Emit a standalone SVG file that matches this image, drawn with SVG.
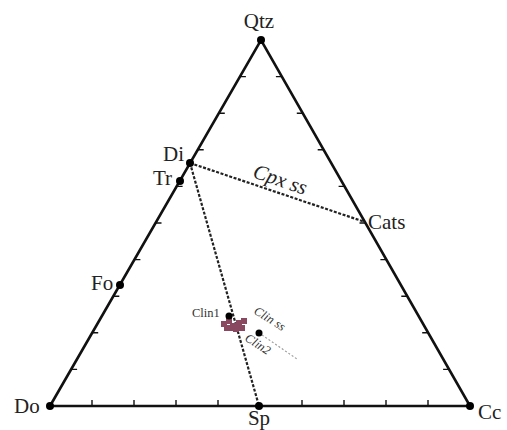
<svg xmlns="http://www.w3.org/2000/svg" width="507" height="430" viewBox="0 0 507 430">
<style>
.side{stroke:#111;stroke-width:2.6;fill:none;stroke-linejoin:miter}
.tick{stroke:#111;stroke-width:1.4;fill:none}
.tie{stroke:#222;stroke-width:2.2;stroke-dasharray:3,1.6;fill:none}
.ss{stroke:#999;stroke-width:1.1;stroke-dasharray:2,2;fill:none}
.dot{fill:#000}
.lbl{font-family:"Liberation Serif","Times New Roman",serif;font-size:21px;fill:#222}
.sm{font-family:"Liberation Serif","Times New Roman",serif;font-size:12.5px;fill:#333}
.it{font-style:italic}
.pt{fill:#8a4860}
</style>
<rect width="507" height="430" fill="#fff"/>
<g id="connectors">
<path class="side" d="M50,406 L261,40 L470,406 Z"/>
<g id="ticks">
<path class="tick" d="M71.1,369.4h6 M92.2,332.8h6 M113.3,296.2h6 M134.4,259.6h6 M155.5,223h6 M176.6,186.4h6 M197.7,149.8h6 M218.8,113.2h6 M239.9,76.6h6"/>
<path class="tick" d="M281.9,76.6h-6 M302.8,113.2h-6 M323.7,149.8h-6 M344.6,186.4h-6 M365.5,223h-6 M386.4,259.6h-6 M407.3,296.2h-6 M428.2,332.8h-6 M449.1,369.4h-6"/>
<path class="tick" d="M92,406v-6 M134,406v-6 M176,406v-6 M218,406v-6 M302,406v-6 M344,406v-6 M386,406v-6 M428,406v-6"/>
</g>
<path class="tie" d="M190,163 L365,222"/>
<path class="tie" d="M190,163 L259,406"/>
<path class="ss" d="M262,335 L297,359"/>
</g>
<g id="cluster">
<rect class="pt" x="221" y="321" width="6" height="6"/>
<rect class="pt" x="226" y="318" width="6" height="6"/>
<rect class="pt" x="224" y="325" width="6" height="6"/>
<rect class="pt" x="230" y="323" width="6" height="6"/>
<rect class="pt" x="236" y="320" width="6" height="6"/>
<rect class="pt" x="241" y="318" width="6" height="6"/>
<rect class="pt" x="233" y="326" width="6" height="6"/>
<rect class="pt" x="239" y="325" width="6" height="6"/>
<rect class="pt" x="228" y="326" width="5" height="5"/>
</g>
<g id="Qtz"><circle class="dot" cx="261" cy="40" r="4"/><text class="lbl" x="259" y="28" text-anchor="middle">Qtz</text></g>
<g id="Di"><circle class="dot" cx="190" cy="163" r="4"/><text class="lbl" x="163" y="161">Di</text></g>
<g id="Tr"><circle class="dot" cx="180" cy="181" r="4"/><text class="lbl" x="153" y="185">Tr</text></g>
<g id="Fo"><circle class="dot" cx="120" cy="285" r="4"/><text class="lbl" x="91" y="290">Fo</text></g>
<g id="Cats"><text class="lbl" x="368" y="229">Cats</text></g>
<g id="Do"><circle class="dot" cx="50" cy="406" r="4"/><text class="lbl" x="14" y="413">Do</text></g>
<g id="Cc"><circle class="dot" cx="470" cy="406" r="4"/><text class="lbl" x="478" y="419">Cc</text></g>
<g id="Sp"><circle class="dot" cx="259" cy="406" r="4"/><text class="lbl" x="259" y="425" text-anchor="middle">Sp</text></g>
<g id="Cpx"><text class="lbl it" font-size="17" transform="translate(278,186) rotate(19)" text-anchor="middle">Cpx ss</text></g>
<g id="Clin1"><circle class="dot" cx="229" cy="316" r="3.5"/><text class="sm" x="192" y="317">Clin1</text></g>
<g id="Clin2"><circle class="dot" cx="259" cy="333" r="3.5"/><text class="sm it" transform="translate(244,340) rotate(33)">Clin2</text></g>
<g id="Clinss"><text class="sm it" transform="translate(253,313) rotate(32)">Clin ss</text></g>
</svg>
